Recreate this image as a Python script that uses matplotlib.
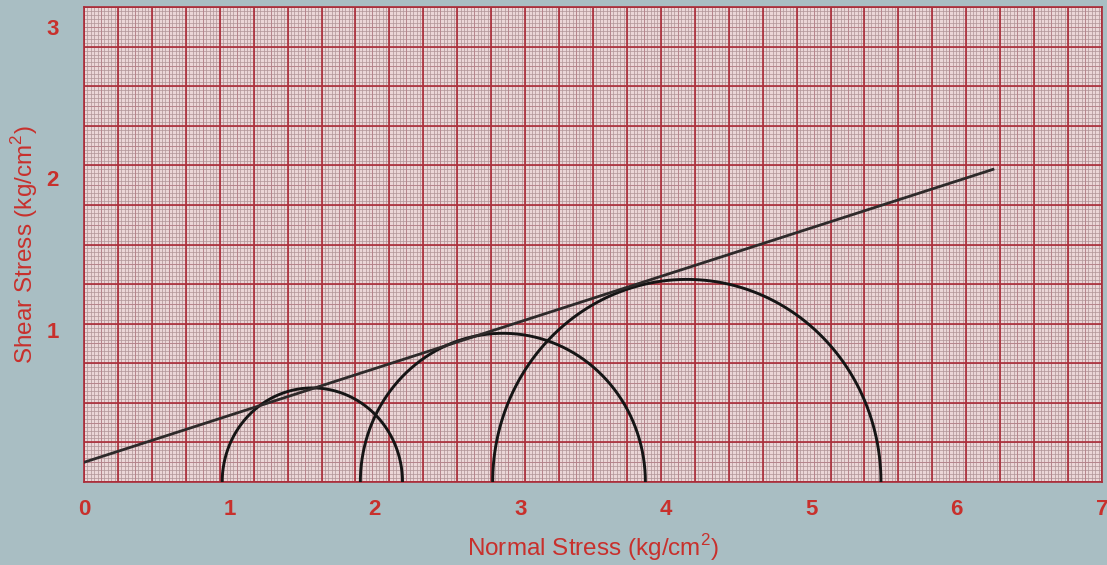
import matplotlib
matplotlib.use("Agg")
import matplotlib.pyplot as plt
import numpy as np

plt.rcParams["font.family"] = ["Liberation Sans", "DejaVu Sans"]
plt.rcParams["mathtext.fontset"] = "custom"
plt.rcParams["mathtext.rm"] = "Liberation Sans"

# Mohr circles (kg/cm^2)
sigma3 = [0.95, 1.90, 2.81]
sigma1 = [2.19, 3.86, 5.48]

# failure envelope drawn on the sheet (two end points)
env_x = [0.0, 6.25]
env_y = [0.13, 2.06]

x_ticks = [0, 1, 2, 3, 4, 5, 6, 7]
y_ticks = [1, 2, 3]
x_max, y_max = 7.0, 3.13

RED = "#c8302c"
BG = "#a9bec3"
PAPER = "#ebd6d7"

fig = plt.figure(figsize=(11.07, 5.65), dpi=100, facecolor=BG)
ax = fig.add_axes([0.0759, 0.1469, 0.9196, 0.8407])
ax.set_facecolor(PAPER)
ax.set_xlim(0, x_max)
ax.set_ylim(0, y_max)

# graph-paper grid: 30 x 12 big squares, 10 fine lines each
nx, ny = 30, 12
fine_x = np.linspace(0, x_max, nx * 10 + 1)
fine_y = np.linspace(0, y_max, ny * 10 + 1)
ax.vlines(fine_x, 0, y_max, color="#b09396", lw=0.5, zorder=1)
ax.hlines(fine_y, 0, x_max, color="#b09396", lw=0.5, zorder=1)
ax.vlines(np.linspace(0, x_max, nx * 2 + 1), 0, y_max, color="#b58088", lw=0.6, zorder=1)
ax.hlines(np.linspace(0, y_max, ny * 2 + 1), 0, x_max, color="#b58088", lw=0.6, zorder=1)
ax.vlines(np.linspace(0, x_max, nx + 1), 0, y_max, color="#ab2c38", lw=1.2, zorder=2)
ax.hlines(np.linspace(0, y_max, ny + 1), 0, x_max, color="#ab2c38", lw=1.2, zorder=2)

# Mohr circles (upper halves)
for s3, s1 in zip(sigma3, sigma1):
    c, r = (s1 + s3) / 2, (s1 - s3) / 2
    t = np.linspace(0, np.pi, 300)
    ax.plot(c + r * np.cos(t), r * np.sin(t), color="#151515", lw=2.1, zorder=4,
            solid_capstyle="butt")

ax.plot(env_x, env_y, color="#2e2a2a", lw=2.0, zorder=4)

for s in ax.spines.values():
    s.set_color("#ab2c38")
    s.set_linewidth(1.2)

ax.set_xticks(x_ticks)
ax.set_yticks(y_ticks)
ax.tick_params(length=0, colors=RED, labelsize=16)
ax.tick_params(axis="x", pad=12)
ax.tick_params(axis="y", pad=18)
for lab in ax.get_xticklabels() + ax.get_yticklabels():
    lab.set_fontweight("bold")
ax.set_xlabel("Normal Stress (kg/cm$^2$)", color=RED, fontsize=17.5, labelpad=9)
ax.set_ylabel("Shear Stress (kg/cm$^2$)", color=RED, fontsize=17.5)
ax.yaxis.set_label_coords(-0.043, 0.5)

fig.savefig("out.png", dpi=100, facecolor=BG)
